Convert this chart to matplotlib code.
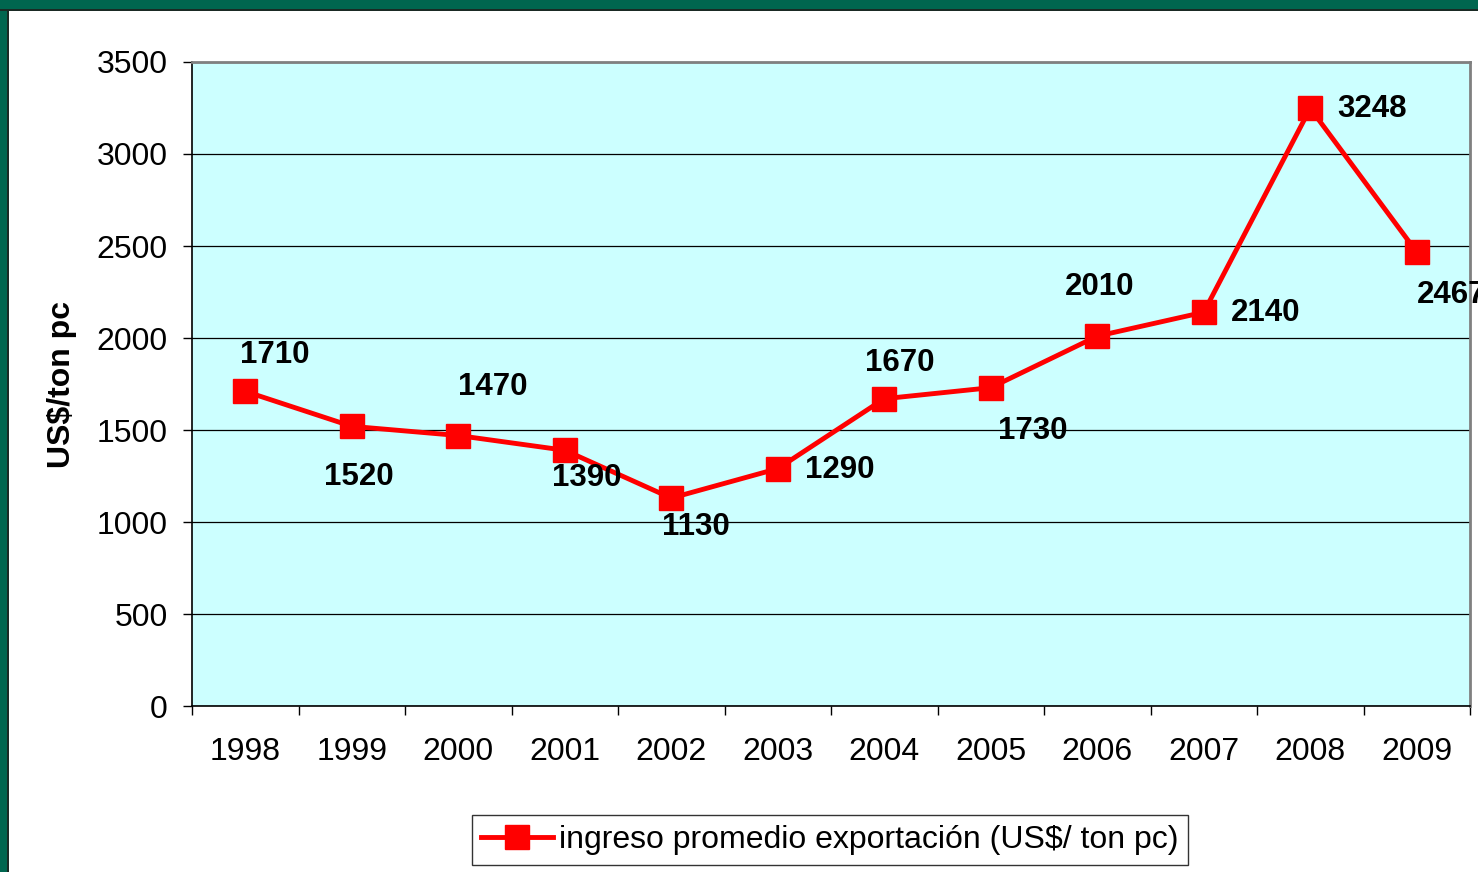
import matplotlib
matplotlib.use("Agg")
import matplotlib.pyplot as plt
from matplotlib.patches import Rectangle

# data
years = ["1998", "1999", "2000", "2001", "2002", "2003",
         "2004", "2005", "2006", "2007", "2008", "2009"]
ingreso = [1710, 1520, 1470, 1390, 1130, 1290, 1670, 1730, 2010, 2140, 3248, 2467]
label_text = ["1710", "1520", "1470", "1390", "1130", "1290",
              "1670", "1730", "2010", "2140", "3248", "2467"]
serie_name = "ingreso promedio exportación (US$/ ton pc)"

# label offsets in pixels (label centre relative to point)
offsets = [(29, 36), (7, -51), (35, 49), (22, -28), (25, -29), (62, -1),
           (15, 36), (42, -43), (2, 49), (62, -1), (62, -1), (35, -43)]

plt.rcParams['font.family'] = ['Liberation Sans', 'DejaVu Sans']

fig = plt.figure(figsize=(14.78, 8.72), dpi=100)
fig.patch.set_facecolor('white')

# green frame on top and left
fig.patches.append(Rectangle((0, 1 - 9 / 872), 1, 9 / 872, transform=fig.transFigure,
                             facecolor='#00664f', edgecolor='none', zorder=0))
fig.patches.append(Rectangle((0, 0), 7 / 1478, 1, transform=fig.transFigure,
                             facecolor='#00664f', edgecolor='none', zorder=0))
fig.patches.append(Rectangle((0, 1 - 11 / 872), 1, 2 / 872, transform=fig.transFigure,
                             facecolor='#1a2a24', edgecolor='none', zorder=0))
fig.patches.append(Rectangle((7 / 1478, 0), 2 / 1478, 1 - 9 / 872, transform=fig.transFigure,
                             facecolor='#1a2a24', edgecolor='none', zorder=0))

ax = fig.add_axes([192 / 1478, 1 - 706 / 872, (1470 - 192) / 1478, (706 - 62) / 872])
ax.set_facecolor('#ccffff')

x = list(range(len(years)))
ax.plot(x, ingreso, color='#ff0000', lw=3.5, marker='s', markersize=17,
        label=serie_name, zorder=3, clip_on=False)

for xi, yi, txt, (dx, dy) in zip(x, ingreso, label_text, offsets):
    ax.annotate(txt, (xi, yi), xytext=(dx, dy), textcoords='offset pixels',
                ha='center', va='center', fontsize=22.5, fontweight='bold',
                color='black', annotation_clip=False, zorder=4)

ax.set_xlim(-0.5, len(years) - 0.5)
ax.set_ylim(0, 3500)
ax.set_yticks(range(0, 3501, 500))
ax.yaxis.grid(True, color='black', lw=0.9)
ax.set_axisbelow(True)

ax.set_xticks([i + 0.5 for i in range(-1, len(years))])
ax.set_xticklabels([])
ax.set_xticks(x, minor=True)
ax.set_xticklabels(years, minor=True)
ax.tick_params(axis='x', which='major', length=6.5, width=1, color='black', direction='out')
ax.tick_params(axis='x', which='minor', length=0, pad=22, labelsize=23)
ax.tick_params(axis='y', length=6.5, width=1, color='black', pad=11, labelsize=23)

for s in ['top', 'right']:
    ax.spines[s].set_color('#808080')
    ax.spines[s].set_linewidth(2)
for s in ['left', 'bottom']:
    ax.spines[s].set_color('black')
    ax.spines[s].set_linewidth(1.2)

ax.set_ylabel("US$/ton pc", fontsize=23, fontweight='bold', labelpad=14)

leg = fig.legend(loc='center', bbox_to_anchor=(830 / 1478, 1 - 840 / 872),
                 fontsize=23, frameon=True, fancybox=False, handlelength=2.25,
                 borderpad=0.3, handletextpad=0.2, borderaxespad=0)
leg.get_frame().set_edgecolor('black')
leg.get_frame().set_linewidth(1)

fig.savefig("out.png", dpi=100)
